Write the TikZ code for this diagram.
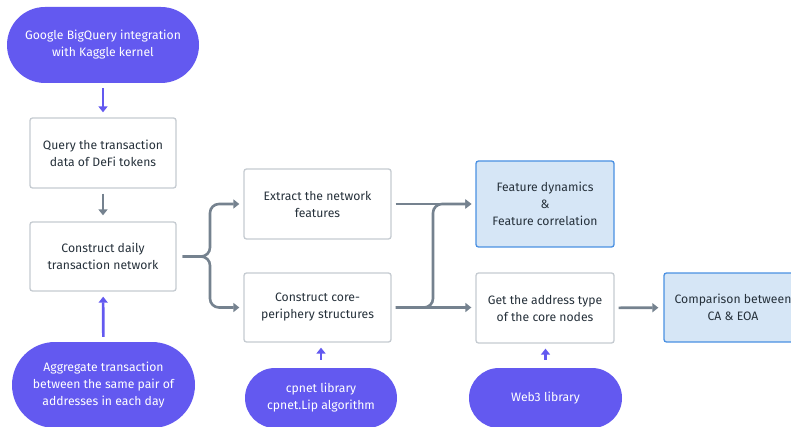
\documentclass[tikz,border=0pt]{standalone}
\usepackage{fontspec}
\setmainfont{Fira Sans}
\usetikzlibrary{arrows.meta}
\definecolor{pillpurple}{HTML}{6359F0}
\definecolor{arrowgray}{HTML}{75828F}
\definecolor{boxgray}{HTML}{C5CBD1}
\definecolor{textgray}{HTML}{26313B}
\definecolor{featblue}{HTML}{D6E6F6}
\definecolor{featborder}{HTML}{4A90E2}

\begin{document}
\begin{tikzpicture}[x=1pt, y=-1pt,
		every node/.style={font=\fontsize{12.2}{17}\selectfont, align=center, inner sep=0pt},
		pill/.style={fill=pillpurple, text=white, rounded corners=#1},
		stepbox/.style={draw=boxgray, line width=1.3pt, fill=white, text=textgray, rounded corners=2.5pt},
		resultbox/.style={draw=featborder, line width=1.3pt, fill=featblue, text=textgray, rounded corners=2.5pt},
		flow/.style={draw=arrowgray, line width=2.6pt, -{Triangle[length=6pt, width=9pt]}},
		feed/.style={draw=pillpurple, line width=2.6pt, -{Triangle[length=6pt, width=9pt]}}]
		
		\useasboundingbox (0,0) rectangle (791,427);
		
		% draw purple inputs
		\node[pill=38pt, minimum width=192pt, minimum height=76pt] (bigq) at (103,45) {Google BigQuery integration\\with Kaggle kernel};
		\node[pill=43pt, minimum width=183pt, minimum height=86pt] (aggr) at (103.5,385) {Aggregate transaction\\between the same pair of\\addresses in each day};
		\node[pill=30pt, minimum width=152pt, minimum height=60pt] (cpnet) at (321,398) {cpnet library\\cpnet.Lip algorithm};
		\node[pill=30pt, minimum width=153pt, minimum height=60pt] (web3) at (545.5,398) {Web3 library};
		
		% draw steps
		\node[stepbox, minimum width=146pt, minimum height=70pt] (query) at (103,153) {Query the transaction\\data of DeFi tokens};
		\node[stepbox, minimum width=146pt, minimum height=69pt] (daily) at (103,256.5) {Construct daily\\transaction network};
		\node[stepbox, minimum width=147pt, minimum height=70pt] (extract) at (317.5,204) {Extract the network\\features};
		\node[stepbox, minimum width=147pt, minimum height=69pt] (core) at (317.5,307.5) {Construct core-\\periphery structures};
		\node[stepbox, minimum width=138pt, minimum height=70pt] (address) at (545,308) {Get the address type\\of the core nodes};
		
		% draw results
		\node[resultbox, minimum width=138pt, minimum height=86pt] (feature) at (545,204) {Feature dynamics\\\&\\Feature correlation};
		\node[resultbox, minimum width=138pt, minimum height=69pt] (compare) at (733,307.5) {Comparison between\\CA \& EOA};
		
		% draw purple arrows
		\draw[feed, shorten <=5pt, shorten >=5pt] (bigq) -- (query);
		\draw[feed, shorten <=5pt, shorten >=5pt] (aggr) -- (daily);
		\draw[feed, shorten <=8pt, shorten >=5pt] (cpnet.north) -- (cpnet.north |- core.south);
		\draw[feed, shorten <=8pt, shorten >=5pt] (web3.north) -- (web3.north |- address.south);
		
		% draw gray arrows
		\coordinate (split) at (210,0);
		\coordinate (merge) at (433,0);
		\draw[flow, shorten <=5pt, shorten >=6pt] (query) -- (daily);
		\draw[flow, rounded corners=9pt, shorten <=6pt, shorten >=4pt] (daily.east) -| (split |- extract.west) -- (extract.west);
		\draw[flow, rounded corners=9pt, shorten <=6pt, shorten >=4pt] (daily.east) -| (split |- core.west) -- (core.west);
		\draw[flow, shorten <=4pt, shorten >=4pt] (extract) -- (feature);
		\draw[flow, shorten <=4pt, shorten >=4pt] (core.east) -- (core.east -| address.west);
		\draw[flow, rounded corners=9pt, shorten <=4pt, shorten >=4pt] (core.east) -| (merge |- feature.west) -- (feature.west);
		\draw[flow, shorten <=4pt, shorten >=5pt] (address) -- (compare);
		
\end{tikzpicture}
\end{document}
